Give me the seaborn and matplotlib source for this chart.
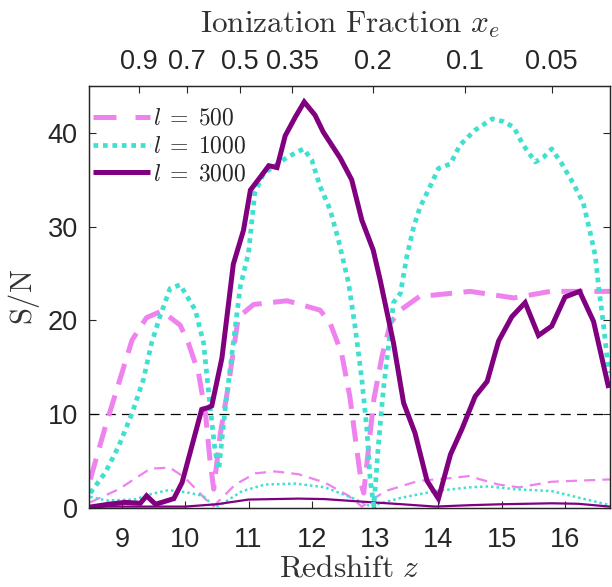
import numpy as np
import pandas as pd
import matplotlib
matplotlib.use("Agg")
import matplotlib.pyplot as plt
import seaborn as sns
from matplotlib.lines import Line2D

# ---- data ----
z_3000 = [8.5, 8.79, 9.05, 9.29, 9.39, 9.53, 9.63, 9.82, 9.95, 10.26, 10.36, 10.42, 10.58,
          10.76, 10.92, 11.03, 11.21, 11.32, 11.45, 11.58, 11.74, 11.88, 12.05, 12.18, 12.45,
          12.63, 12.79, 12.97, 13.08, 13.29, 13.45, 13.63, 13.82, 14.0, 14.19, 14.37, 14.58,
          14.77, 14.95, 15.16, 15.37, 15.58, 15.79, 16.0, 16.23, 16.45, 16.69]
sn_3000 = [0.1, 0.4, 0.6, 0.5, 1.3, 0.4, 0.6, 1.0, 2.7, 10.5, 10.7, 10.9, 16.0,
           26.0, 29.6, 33.9, 35.5, 36.5, 36.3, 39.7, 41.7, 43.3, 41.9, 40.1, 37.3,
           35.0, 30.7, 27.5, 24.3, 17.6, 11.2, 8.0, 2.9, 1.0, 5.7, 8.4, 11.9,
           13.5, 17.8, 20.4, 21.9, 18.4, 19.4, 22.5, 23.1, 19.9, 12.8]

z_1000 = [8.5, 8.74, 8.95, 9.16, 9.34, 9.47, 9.6, 9.76, 9.92, 10.16, 10.29, 10.37, 10.47,
          10.53, 10.63, 10.76, 10.87, 11.0, 11.1, 11.24, 11.4, 11.61, 11.87, 12.0, 12.13,
          12.29, 12.42, 12.58, 12.69, 12.79, 12.87, 12.92, 12.98, 13.05, 13.13, 13.21, 13.29,
          13.4, 13.5, 13.61, 13.71, 13.87, 14.0, 14.19, 14.34, 14.58, 14.85, 15.03, 15.19,
          15.34, 15.53, 15.66, 15.79, 15.95, 16.13, 16.29, 16.4, 16.48, 16.53, 16.61, 16.69]
sn_1000 = [1.6, 3.8, 6.6, 10.1, 13.7, 17.6, 20.4, 23.4, 23.8, 21.1, 17.6, 12.3, 6.2,
           4.1, 10.5, 17.6, 23.6, 27.2, 33.6, 35.7, 36.4, 37.4, 38.3, 37.1, 34.3,
           31.8, 28.6, 24.0, 19.0, 13.7, 8.4, 3.1, 0.2, 6.6, 12.6, 17.2, 21.9,
           22.9, 26.8, 30.0, 32.1, 34.3, 36.2, 36.7, 38.7, 40.3, 41.5, 41.2, 40.6,
           38.7, 36.9, 37.4, 38.3, 36.7, 34.6, 32.5, 29.3, 26.8, 23.6, 19.4, 14.4]

z_500 = [8.5, 8.74, 8.95, 9.16, 9.39, 9.63, 9.92, 10.05, 10.21, 10.32, 10.39, 10.45, 10.55,
         10.68, 10.84, 10.92, 11.08, 11.61, 12.13, 12.29, 12.47, 12.6, 12.69, 12.79, 12.82,
         12.9, 12.98, 13.11, 13.24, 13.4, 13.71, 13.92, 14.5, 15.19, 15.77, 16.71]
sn_500 = [3.05, 8.7, 13.3, 17.9, 20.3, 21.0, 19.5, 17.6, 14.4, 10.1, 5.2, 2.0, 7.7,
          13.0, 20.4, 20.8, 21.7, 22.1, 21.1, 19.7, 16.5, 11.9, 7.3, 2.3, 1.6,
          6.6, 11.6, 16.2, 19.7, 21.1, 22.6, 22.7, 23.1, 22.4, 23.1, 23.1]

# thin (lower) curves
zt_3000 = [8.5, 9.0, 10.0, 10.5, 11.0, 11.79, 12.2, 12.63, 13.42, 13.95, 14.5, 15.0, 15.79, 16.2, 16.71]
snt_3000 = [0.15, 0.15, 0.15, 0.4, 0.9, 1.0, 0.95, 0.75, 0.4, 0.15, 0.3, 0.4, 0.5, 0.45, 0.15]

zt_1000 = [8.5, 8.75, 9.2, 9.47, 9.73, 10.0, 10.28, 10.42, 10.53, 10.9, 11.26, 11.74, 12.21,
           12.63, 12.92, 13.42, 13.95, 14.48, 14.79, 15.21, 15.79, 16.71]
snt_1000 = [1.2, 0.8, 0.9, 1.5, 1.9, 1.7, 1.3, 0.4, 0.2, 1.8, 2.5, 2.6, 2.2,
            1.1, 0.2, 1.1, 1.8, 2.2, 2.3, 2.0, 1.8, 0.3]

zt_500 = [8.5, 8.95, 9.45, 9.76, 10.0, 10.37, 10.45, 10.79, 11.11, 11.42, 11.79, 12.21, 12.58,
          12.79, 13.16, 13.69, 14.21, 14.48, 14.95, 15.27, 15.79, 16.71]
snt_500 = [0.6, 2.0, 4.2, 4.3, 3.2, 0.6, 0.2, 2.5, 3.7, 3.9, 3.6, 2.7, 1.3,
           0.15, 1.8, 2.9, 3.2, 3.4, 2.5, 2.2, 2.8, 3.05]

xe_ticks = [9.27, 10.03, 10.87, 11.69, 12.97, 14.42, 15.79]
xe_labels = ["0.9", "0.7", "0.5", "0.35", "0.2", "0.1", "0.05"]
z_ticks = [9, 10, 11, 12, 13, 14, 15, 16]
sn_ticks = [0, 10, 20, 30, 40]
threshold = 10
legend_labels = [r"$l\;=\;500$", r"$l\;=\;1000$", r"$l\;=\;3000$"]

# ---- style ----
sns.set_style("ticks")
plt.rcParams["font.family"] = ["Liberation Sans", "DejaVu Sans"]
plt.rcParams["mathtext.fontset"] = "cm"

VIOLET, TURQ, PURPLE = "#EE82EE", "#40E0D0", "#800080"
TXT = "#262626"

fig = plt.figure(figsize=(6.12, 5.87), dpi=100)
ax = fig.add_axes([0.1454, 0.1346, 0.8513, 0.7189])

def draw(z, s, color, lw, ls):
    df = pd.DataFrame({"z": z, "sn": s})
    sns.lineplot(data=df, x="z", y="sn", ax=ax, color=color, lw=lw,
                 linestyle=ls, dash_capstyle="butt", solid_capstyle="butt",
                 solid_joinstyle="miter", legend=False)

# thin curves
draw(zt_500, snt_500, VIOLET, 1.6, (0, (5, 3.2)))
draw(zt_1000, snt_1000, TURQ, 1.8, (0, (1, 1.2)))
draw(zt_3000, snt_3000, PURPLE, 1.6, "-")

ax.axhline(threshold, color="black", lw=0.9, ls=(0, (8, 5)))

# thick curves
draw(z_500, sn_500, VIOLET, 3.6, (0, (4.3, 2.3)))
draw(z_1000, sn_1000, TURQ, 3.4, (0, (1, 1)))
draw(z_3000, sn_3000, PURPLE, 3.6, "-")

ax.set_xlim(8.48, 16.71)
ax.set_ylim(0, 45)
ax.set_xticks(z_ticks)
ax.set_yticks(sn_ticks)
ax.tick_params(axis="both", direction="in", labelsize=19.5, length=5, width=0.8,
               colors=TXT, labelcolor=TXT)
ax.tick_params(axis="x", pad=14)
ax.tick_params(axis="y", pad=8, right=True, labelright=False)
for sp in ax.spines.values():
    sp.set_linewidth(0.9)
    sp.set_color(TXT)
ax.set_xlabel(r"$\mathrm{Redshift}\ z$", fontsize=22.5, labelpad=0, color="#333333")
ax.set_ylabel(r"$\mathrm{S/N}$", fontsize=22, labelpad=4, color="#333333")

ax2 = ax.twiny()
ax2.set_xlim(ax.get_xlim())
ax2.set_xticks(xe_ticks)
ax2.set_xticklabels(xe_labels)
ax2.tick_params(axis="x", direction="in", labelsize=19.5, length=5, width=0.8,
                colors=TXT, labelcolor=TXT, pad=8)
ax2.set_xlabel(r"$\mathrm{Ionization\ Fraction}\ x_e$", fontsize=22.5, labelpad=12, color="#333333")
for sp in ax2.spines.values():
    sp.set_linewidth(0.9)
    sp.set_color(TXT)

handles = [
    Line2D([], [], color=VIOLET, lw=3.6, ls=(0, (4.6, 3.8)), dash_capstyle="butt"),
    Line2D([], [], color=TURQ, lw=3.4, ls=(0, (1, 1)), dash_capstyle="butt"),
    Line2D([], [], color=PURPLE, lw=3.6, ls="-", solid_capstyle="butt"),
]
leg = ax.legend(handles, legend_labels,
                loc="upper left", frameon=False, fontsize=17, handlelength=2.4,
                handletextpad=0.15, borderaxespad=0.0, borderpad=0.0,
                labelspacing=0.25, bbox_to_anchor=(0.008, 0.948))

fig.savefig("out.png", dpi=100)
